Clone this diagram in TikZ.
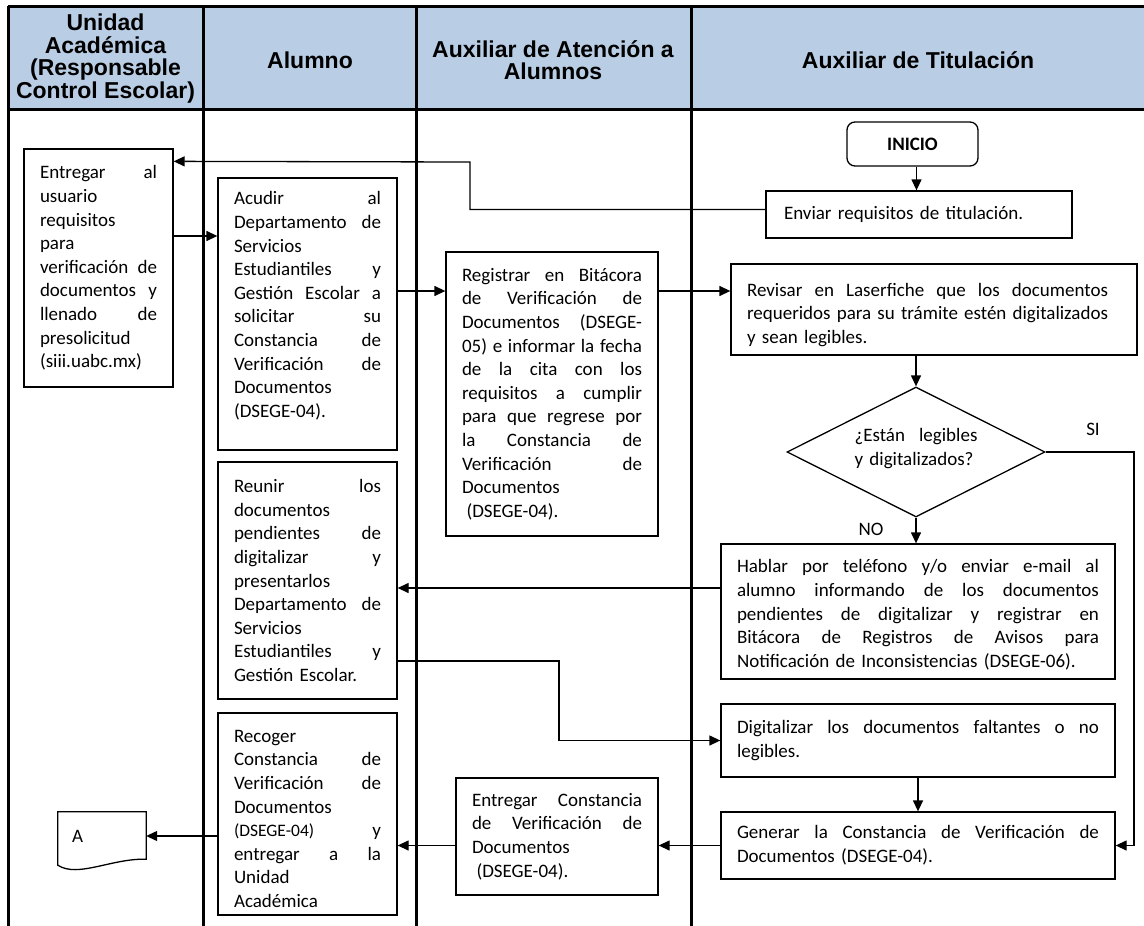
\documentclass[tikz,border=0pt]{standalone}
\usepackage{fontspec}
\setmainfont{Carlito}
\newfontfamily\headfont{Liberation Sans}
\usetikzlibrary{arrows.meta,shapes.geometric,calc}
\definecolor{headblue}{RGB}{185,205,228}
% one line spread over the given width (default: the full text width);
% the ragged alignment fixes the word space, so it is released here
\newcommand\J[2][\hsize]{\makebox[#1][s]{\spaceskip=0pt\xspaceskip=0pt #2}}
% invisible struts that move a text block within its box
\newcommand\topstrut[1]{\rule{0pt}{#1}}
\newcommand\botstrut[1]{\rule[-#1]{0pt}{1pt}}

\begin{document}
\begin{tikzpicture}[x=1pt,y=-1pt,
  body/.style={font=\fontsize{19}{23.6}\selectfont},
  box/.style={draw, line width=1.3pt, body, align=left, inner xsep=16pt, inner ysep=0pt},
  arr/.style={line width=1.3pt, -{Triangle[length=11pt,width=10pt]}},
  lane/.style={line width=3pt},
  head/.style={font=\headfont\bfseries\fontsize{23}{22.4}\selectfont, align=center},
]
\useasboundingbox (0,0) rectangle (1144,926);

% swimlane header and separators
\fill[headblue] (8,6) rectangle (1144,109);
\draw[lane] (8,6) -- (1144,6);
\draw[lane] (8,109) -- (1144,109);
\foreach \x in {8,203,416,691} \draw[lane] (\x,6) -- (\x,926);

\node[head] (h1) at (105.5,58.5) {Unidad\\Académica\\(Responsable\\Control Escolar)};
\node[head] (h2) at (310,60) {Alumno};
\node[head] (h3) at (553,60) {Auxiliar de Atención a\\Alumnos};
\node[head] (h4) at (918,60) {Auxiliar de Titulación};

% Unidad Académica
\node[box, text width=117pt, minimum height=238pt] (entregar) at (98.5,268)
  {\J{Entregar al}\\usuario\\requisitos\\para\\\J{verificación de}\\\J{documentos y}\\\J{llenado de}\\presolicitud\\(siii.uabc.mx)};

\node[body, text width=60pt, inner xsep=14pt, inner ysep=0pt, minimum height=48pt, align=left] (docA) at (102,836) {A};
\draw[line width=1.3pt] (docA.north west) -- ($(docA.south west)+(0,5)$)
  .. controls ($(docA.south west)+(20,18)$) and ($(docA.south west)+(54,-2)$) .. ($(docA.south east)+(0,-1)$)
  -- (docA.north east) -- cycle;

% Alumno
\node[box, text width=147pt, minimum height=272pt] (acudir) at (307.5,314)
  {\J{Acudir al}\\\J{Departamento de}\\Servicios\\\J{Estudiantiles y}\\\J{Gestión Escolar a}\\\J{solicitar su}\\\J{Constancia de}\\\J{Verificación de}\\Documentos\\(DSEGE-04).\botstrut{19pt}};

\node[box, text width=147pt, minimum height=237pt] (reunir) at (307.5,580.5)
  {\J{Reunir los}\\documentos\\\J{pendientes de}\\\J{digitalizar y}\\presentarlos\\\J{Departamento de}\\Servicios\\\J{Estudiantiles y}\\Gestión Escolar.};

\node[box, text width=147pt, minimum height=202pt] (recoger) at (307.5,814)
  {\topstrut{22pt}Recoger\\\J{Constancia de}\\\J{Verificación de}\\Documentos\\\J{{\fontsize{17.5}{23.6}\selectfont(DSEGE-04)} y}\\\J{entregar a la}\\Unidad\\Académica};

% Auxiliar de Atención a Alumnos
\node[box, text width=180pt, minimum height=284pt] (registrar) at (552,394)
  {\J{Registrar en Bitácora}\\\J{de Verificación de}\\\J{Documentos (DSEGE-}\\\J{05) e informar la fecha}\\\J{de la cita con los}\\\J{requisitos a cumplir}\\\J{para que regrese por}\\\J{la Constancia de}\\\J{Verificación de}\\Documentos\\\hspace*{4.5pt}(DSEGE-04).};

\node[box, text width=170pt, minimum height=117pt] (entconst) at (557,836.5)
  {\J{Entregar Constancia}\\\J{de Verificación de}\\Documentos\\\hspace*{4.5pt}(DSEGE-04).};

% Auxiliar de Titulación
\node[draw, line width=1.3pt, rounded corners=8pt, minimum width=131pt, minimum height=44pt,
  font=\fontsize{19}{23.6}\selectfont\bfseries] (inicio) at (912.5,144) {INICIO};

\node[box, inner xsep=18pt, text width=270pt, minimum height=47pt] (enviar) at (919,214.5)
  {Enviar requisitos de titulación.};

\node[box, text width=374pt, minimum height=91pt] (revisar) at (934,309.5)
  {\J[361pt]{\topstrut{24pt}Revisar en Laserfiche que los documentos}\\\J[361pt]{requeridos para su trámite estén digitalizados}\\y sean legibles.};

\node[draw, diamond, aspect=2, line width=1.3pt, minimum width=258pt, minimum height=130pt,
  inner sep=0pt, body, align=left, text width=123pt] (dia) at (916,452)
  {\J{¿Están legibles}\\y digitalizados?\botstrut{10pt}};

\node[body] (silabel) at (1093,429) {SI};
\node[body] (nolabel) at (871,529) {NO};

\node[box, text width=362pt, minimum height=135pt] (hablar) at (918,611.5)
  {\J{\topstrut{20pt}Hablar por teléfono y/o enviar e-mail al}\\\J{alumno informando de los documentos}\\\J{pendientes de digitalizar y registrar en}\\\J{Bitácora de Registros de Avisos para}\\Notificación de Inconsistencias (DSEGE-06).};

\node[box, text width=362pt, minimum height=73pt] (digitalizar) at (918,740.5)
  {\J{Digitalizar los documentos faltantes o no}\\legibles.};

\node[box, text width=362pt, minimum height=67pt] (generar) at (918,845.5)
  {\J{Generar la Constancia de Verificación de}\\Documentos (DSEGE-04).};

% bend points of the routed connectors
\coordinate (retx) at (470,162);
\coordinate (sicol) at (1134,452);
\coordinate (bendb) at (559,700);

% connectors
\draw[arr] ([xshift=4pt]inicio.south) -- ([xshift=4pt]inicio.south |- enviar.north);
\draw[arr] ([yshift=5pt]enviar.west) -| (retx) -- ([yshift=-13pt]entregar.north east);
\draw[arr] ([yshift=32pt]entregar.east) -- ([yshift=32pt]entregar.east -| acudir.west);
\draw[arr] ([yshift=23pt]acudir.east) -- ([yshift=23pt]acudir.east -| registrar.west);
\draw[arr] ([yshift=18.5pt]revisar.west -| registrar.east) -- ([yshift=18.5pt]revisar.west);
\draw[arr] (dia.north |- revisar.south) -- (dia.north);
\draw[arr] (dia.south) -- (dia.south |- hablar.north);
\draw[arr] (dia.east) -| (sicol |- generar.east) -- (generar.east);
\draw[arr] ([yshift=23.5pt]hablar.west) -- ([yshift=23.5pt]hablar.west -| reunir.east);
\draw[arr] ([yshift=-80.5pt]reunir.east) -| (bendb) |- (digitalizar.west);
\draw[arr] (digitalizar.south) -- (generar.north);
\draw[arr] (generar.west) -- (generar.west -| entconst.east);
\draw[arr] (generar.west -| entconst.west) -- (generar.west -| recoger.east);
\draw[arr] (docA.east -| recoger.west) -- (docA.east);
\end{tikzpicture}
\end{document}
